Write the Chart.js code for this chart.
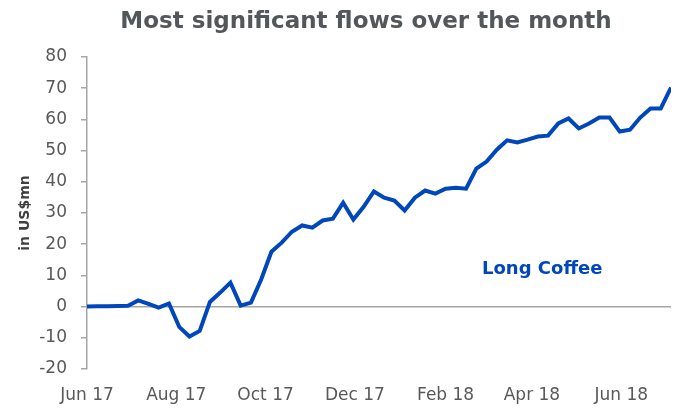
<!DOCTYPE html>
<html>
<head>
<meta charset="utf-8">
<script src="https://cdn.jsdelivr.net/npm/chart.js@4/dist/chart.umd.min.js"></script>
<style>
  body { margin: 0; background: #fff; }
  canvas { display: block; }
</style>
</head>
<body>
<canvas id="flowsChart" width="692" height="408"></canvas>
<script>
// weekly cumulative flows, US$ mn, starting the week of 1 Jun 2017
const firstWeek = '2017-06-01';
const flows = [
  0, 0.1, 0.1, 0.2, 0.3, 2, 0.9, -0.3, 1, -6.5,
  -9.6, -7.8, 1.5, 4.5, 7.7, 0.3, 1.3, 8.7, 17.6, 20.5,
  24, 26, 25.3, 27.6, 28.2, 33.3, 27.9, 32, 36.9, 34.9,
  34, 30.8, 34.9, 37.2, 36.2, 37.8, 38.1, 37.8, 44.2, 46.5,
  50.3, 53.3, 52.6, 53.5, 54.5, 54.8, 58.7, 60.3, 57.1, 58.7,
  60.6, 60.6, 56.1, 56.7, 60.6, 63.5, 63.5, 70.2
];
const tickMonths = ['2017-06-01', '2017-08-01', '2017-10-01', '2017-12-01', '2018-02-01', '2018-04-01', '2018-06-01'];
const tickLabels = ['Jun 17', 'Aug 17', 'Oct 17', 'Dec 17', 'Feb 18', 'Apr 18', 'Jun 18'];
const seriesName = 'Long Coffee';
const chartTitle = 'Most significant flows over the month';

const DAY = 24 * 3600 * 1000;
const start = new Date(firstWeek + 'T00:00:00Z').getTime();
const dayOf = s => Math.round((new Date(s + 'T00:00:00Z').getTime() - start) / DAY);

const points = flows.map((v, i) => ({ x: i * 7, y: v }));
const tickDays = tickMonths.map(dayOf);

const blue = '#0047BB';
const axisGrey = '#a6a6a6';
const textGrey = '#595959';

// heading and series name, drawn straight on the canvas
const annotations = {
  id: 'annotations',
  afterDraw(chart, args, opts) {
    const { ctx, scales } = chart;
    ctx.save();
    ctx.textAlign = 'center';
    ctx.textBaseline = 'middle';

    ctx.font = 'bold 23px "DejaVu Sans"';
    ctx.fillStyle = '#52575a';
    ctx.fillText(chartTitle, opts.titleX, opts.titleY);

    ctx.font = 'bold 18px "DejaVu Sans"';
    ctx.fillStyle = blue;
    ctx.fillText(seriesName, scales.x.getPixelForValue(opts.labelDay), scales.y.getPixelForValue(opts.labelValue));
    ctx.restore();
  }
};

const ctx = document.getElementById('flowsChart').getContext('2d');
new Chart(ctx, {
  type: 'line',
  data: {
    datasets: [{
      label: seriesName,
      data: points,
      borderColor: blue,
      borderWidth: 4,
      pointRadius: 0,
      tension: 0,
      fill: false
    }]
  },
  options: {
    responsive: false,
    animation: false,
    layout: { padding: { top: 57, right: 21, bottom: 0, left: 0 } },
    plugins: {
      legend: { display: false },
      tooltip: { enabled: false },
      title: { display: false },
      annotations: { titleX: 366, titleY: 22, labelDay: 311, labelValue: 11.9 }
    },
    scales: {
      x: {
        type: 'linear',
        min: 0,
        max: 399,
        grid: { display: false },
        border: { display: false },
        afterBuildTicks: scale => { scale.ticks = tickDays.map(d => ({ value: d })); },
        afterFit: scale => { scale.height = 39; },
        ticks: {
          autoSkip: false,
          maxRotation: 0,
          padding: 8,
          color: textGrey,
          font: { family: 'DejaVu Sans', size: 17 },
          callback: (value, index) => tickLabels[index]
        }
      },
      y: {
        min: -20,
        max: 80,
        afterFit: scale => { scale.width = 87; },
        grid: {
          color: c => (c.tick && c.tick.value === 0 ? axisGrey : 'transparent'),
          lineWidth: 1.5,
          tickColor: axisGrey,
          tickLength: 6,
          drawTicks: true
        },
        border: { color: axisGrey, width: 1.5 },
        ticks: {
          stepSize: 10,
          padding: 14,
          color: textGrey,
          font: { family: 'DejaVu Sans', size: 17 }
        },
        title: {
          display: true,
          text: 'in US$mn',
          color: '#404040',
          font: { family: 'DejaVu Sans', size: 14, weight: 'bold' },
          padding: { top: 17, bottom: 0 }
        }
      }
    }
  },
  plugins: [annotations]
});
</script>
</body>
</html>
